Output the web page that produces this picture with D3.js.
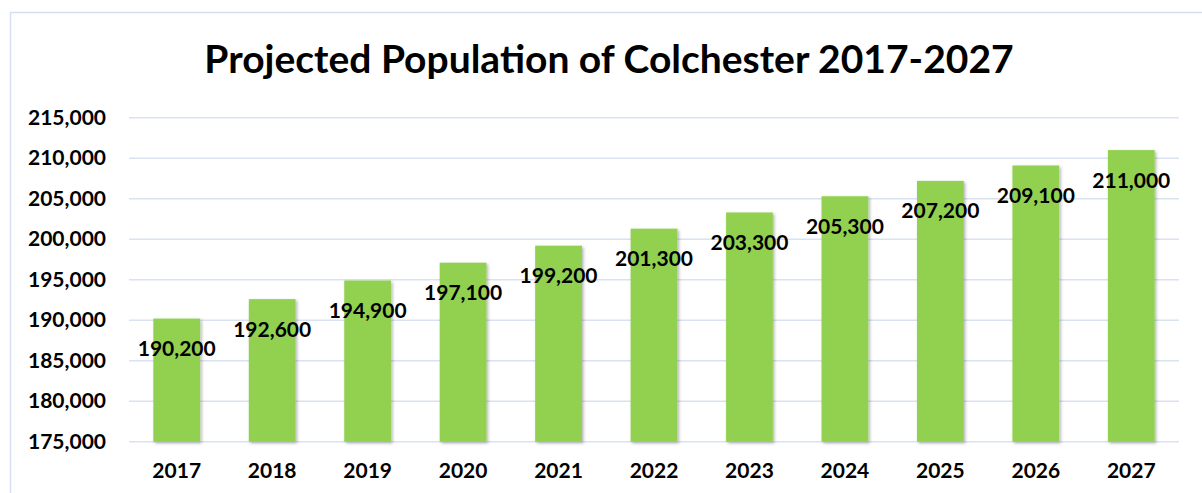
<!DOCTYPE html>
<html>
<head>
<meta charset="utf-8">
<script src="https://cdn.jsdelivr.net/npm/d3@7"></script>
<style>
  html, body { margin: 0; padding: 0; background: #fff; }
  svg { display: block; }
  text { font-family: Lato, "Open Sans", sans-serif; font-weight: 700; fill: #000; }
</style>
</head>
<body>
<svg id="chart" width="1202" height="493"></svg>
<script>
// Projected population of Colchester, by year
const years = ["2017", "2018", "2019", "2020", "2021", "2022", "2023", "2024", "2025", "2026", "2027"];
const population = [190200, 192600, 194900, 197100, 199200, 201300, 203300, 205300, 207200, 209100, 211000];
const yTicks = [175000, 180000, 185000, 190000, 195000, 200000, 205000, 210000, 215000];
const title = "Projected Population of Colchester 2017-2027";

const svg = d3.select("#chart");
const W = 1202, H = 493;
const plot = { left: 129, right: 1179, top: 117.7, bottom: 441.7 };

// drop shadow for the bars
const defs = svg.append("defs");
const f = defs.append("filter").attr("id", "shadow")
  .attr("x", "-20%").attr("y", "-5%").attr("width", "140%").attr("height", "115%");
f.append("feDropShadow").attr("dx", 1.5).attr("dy", 1.5).attr("stdDeviation", 1.5)
  .attr("flood-color", "#000").attr("flood-opacity", 0.3);

// chart frame
svg.append("rect")
  .attr("x", 10.5).attr("y", 12.5).attr("width", W).attr("height", H)
  .attr("fill", "#fff").attr("stroke", "#d5dfee").attr("stroke-width", 1.5);

const x = d3.scaleBand().domain(years).range([plot.left, plot.right]).paddingInner(0.51).paddingOuter(0.255);
const y = d3.scaleLinear().domain([175000, 215000]).range([plot.bottom, plot.top]);

// horizontal gridlines
svg.append("g").selectAll("line").data(yTicks).join("line")
  .attr("x1", plot.left).attr("x2", plot.right)
  .attr("y1", d => y(d)).attr("y2", d => y(d))
  .attr("stroke", "#d9e2f1").attr("stroke-width", 1.5);

// y axis labels
const yAxis = d3.axisLeft(y).tickValues(yTicks).tickFormat(d3.format(",")).tickSize(0).tickPadding(0);
const gy = svg.append("g").attr("transform", `translate(${plot.left - 23},0)`).call(yAxis);
gy.select(".domain").remove();
gy.selectAll("text").style("font-size", "21px").style("font-family", "Lato, sans-serif")
  .style("font-weight", 700).attr("fill", "#000");

// bars
svg.append("g").selectAll("rect").data(population).join("rect")
  .attr("x", (d, i) => x(years[i]))
  .attr("width", x.bandwidth())
  .attr("y", d => y(d))
  .attr("height", d => y(175000) - y(d))
  .attr("fill", "#92d050")
  .attr("filter", "url(#shadow)");

// x axis labels
const xAxis = d3.axisBottom(x).tickSize(0).tickPadding(0);
const gx = svg.append("g").attr("transform", `translate(0,${plot.bottom + 21})`).call(xAxis);
gx.select(".domain").remove();
gx.selectAll("text").style("font-size", "21px").style("font-family", "Lato, sans-serif")
  .style("font-weight", 700).attr("fill", "#000");

// value labels inside the top of each bar
svg.append("g").selectAll("text").data(population).join("text")
  .attr("x", (d, i) => x(years[i]) + x.bandwidth() / 2)
  .attr("y", d => y(d) + 29)
  .attr("text-anchor", "middle")
  .attr("dominant-baseline", "central")
  .style("font-size", "21px")
  .text(d => d3.format(",")(d));

// title
svg.append("text")
  .attr("x", 609).attr("y", 73)
  .attr("text-anchor", "middle")
  .style("font-size", "39px")
  .text(title);
</script>
</body>
</html>
